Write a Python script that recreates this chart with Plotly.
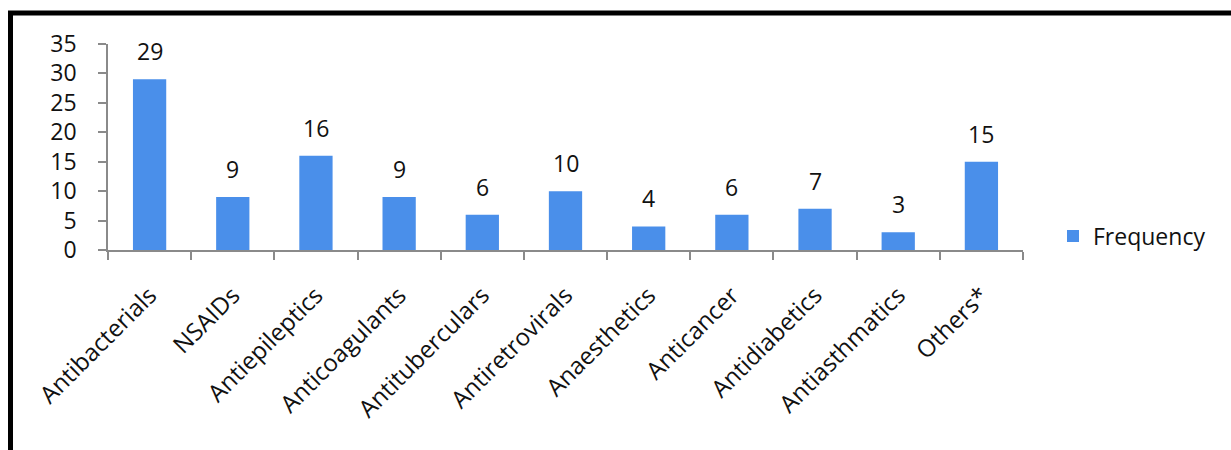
import plotly.graph_objects as go

categories = ["Antibacterials", "NSAIDs", "Antiepileptics", "Anticoagulants",
              "Antituberculars", "Antiretrovirals", "Anaesthetics", "Anticancer",
              "Antidiabetics", "Antiasthmatics", "Others*"]
frequency = [29, 9, 16, 9, 6, 10, 4, 6, 7, 3, 15]
y_ticks = [0, 5, 10, 15, 20, 25, 30, 35]

FONT = "Open Sans"
BAR = "#4A8FEA"
AXIS = "#8A8A8A"

W, H = 1231, 450
L, R, T, B = 108, 208, 44, 200
pw, ph = W - L - R, H - T - B


def px(x):
    return (x - L) / pw


def py(y):
    return (H - B - y) / ph


fig = go.Figure()
fig.add_trace(go.Bar(x=categories, y=frequency, name="Frequency",
                     marker=dict(color=BAR, line=dict(width=0))))

for c, v in zip(categories, frequency):
    fig.add_annotation(x=c, y=v, text=str(v), showarrow=False, yanchor="middle",
                       yshift=28, font=dict(family=FONT, size=23, color="#111"))

# heavy frame around the chart
fig.add_shape(type="rect", xref="paper", yref="paper",
              x0=px(10.5), x1=px(W + 40), y0=py(H + 40), y1=py(13),
              line=dict(color="black", width=5), layer="above")

fig.update_layout(
    width=W, height=H,
    margin=dict(l=L, r=R, t=T, b=B),
    paper_bgcolor="white", plot_bgcolor="white",
    bargap=0.6,
    showlegend=True,
    legend=dict(x=px(1053), y=py(236), xanchor="left", yanchor="middle",
                font=dict(family=FONT, size=23, color="#111"),
                bgcolor="rgba(0,0,0,0)", itemwidth=30),
    font=dict(family=FONT, color="#111"),
)
fig.update_xaxes(type="category", showline=True, linecolor=AXIS, linewidth=1.5,
                 ticks="outside", tickson="boundaries", ticklen=8, tickcolor=AXIS,
                 tickwidth=1.5, tickangle=-45, showgrid=False,
                 tickfont=dict(family=FONT, size=24, color="#111"),
                 ticklabelstandoff=20)
fig.update_yaxes(range=[0, 35], tickvals=y_ticks, showline=True, linecolor=AXIS,
                 linewidth=1.5, ticks="outside", ticklen=8, tickcolor=AXIS,
                 tickwidth=1.5, showgrid=False, zeroline=False,
                 tickfont=dict(family=FONT, size=23, color="#111"),
                 ticklabelstandoff=17)

fig.write_html("out.html")
